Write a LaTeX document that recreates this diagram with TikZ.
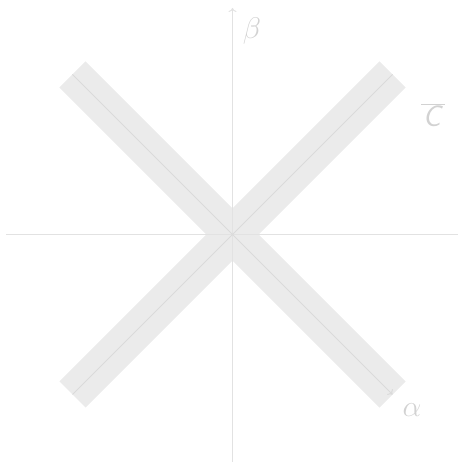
\documentclass[tikz,border=0pt]{standalone}
\usetikzlibrary{arrows.meta}
\definecolor{bandc}{HTML}{EBEBEB}
\definecolor{linec}{HTML}{DADADA}
\definecolor{axisc}{HTML}{E2E2E2}
\definecolor{textc}{HTML}{D2D2D2}
\begin{document}
\begin{tikzpicture}[x=1pt,y=1pt,
  band/.style={draw=bandc,line width=37pt,line cap=butt},
  midline/.style={draw=linec,line width=1pt},
  axis/.style={draw=axisc,line width=1pt},
  lbl/.style={text=textc,font=\Huge,inner sep=0pt,scale=1.2},
  tip/.style={-{To[length=4pt,width=8pt]}}]
\useasboundingbox (0,0) rectangle (458,462);
\coordinate (O) at (232.5,227.5);
\coordinate (NW) at (72.5,387.5);
\coordinate (SE) at (392.5,67.5);
\coordinate (NE) at (392.5,387.5);
\coordinate (SW) at (72.5,67.5);
\coordinate (W) at (6,227.5);
\coordinate (E) at (458,227.5);
\coordinate (S) at (232.5,0);
\coordinate (N) at (232.5,454);
\draw[band] (NW) -- (SE);
\draw[band] (SW) -- (NE);
\draw[axis] (W) -- (E);
\draw[axis,tip] (S) -- (N);
\draw[midline,tip] (NW) -- (SE);
\draw[midline] (SW) -- (NE);
\node[lbl] (beta) at (252,431) {$\beta$};
\node[lbl] (cbar) at (433,347) {$\overline{\mkern1mu\textsf{\textit{C}}\mkern1mu}$};
\node[lbl] (alpha) at (412,52) {$\alpha$};
\end{tikzpicture}
\end{document}
